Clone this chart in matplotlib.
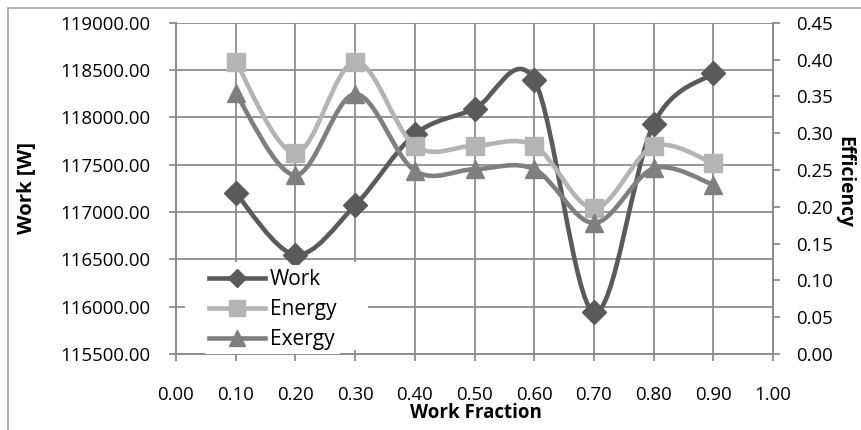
import matplotlib
matplotlib.use("Agg")
import numpy as np
from matplotlib import pyplot as plt
from matplotlib.path import Path
from matplotlib.patches import PathPatch, Rectangle
from matplotlib.lines import Line2D

plt.rcParams['font.family'] = ['Open Sans', 'DejaVu Sans']

work_fraction = [0.1, 0.2, 0.3, 0.4, 0.5, 0.6, 0.7, 0.8, 0.9]
work = [117200, 116550, 117070, 117820, 118090, 118395, 115940, 117930, 118465]
energy = [0.397, 0.273, 0.397, 0.283, 0.283, 0.283, 0.198, 0.282, 0.259]
exergy = [0.354, 0.243, 0.353, 0.249, 0.251, 0.251, 0.178, 0.252, 0.230]

c_work = '#5a5a5a'
c_energy = '#b4b4b4'
c_exergy = '#7f7f7f'
grid_c = '#8c8c8c'


def smooth_curve(ax, xs, ys, color, lw):
    # excel-like smoothed line (catmull-rom as cubic bezier)
    pts = np.column_stack([xs, ys]).astype(float)
    n = len(pts)
    verts = [pts[0]]
    codes = [Path.MOVETO]
    for i in range(n - 1):
        p0 = pts[i - 1] if i > 0 else pts[i]
        p1 = pts[i]
        p2 = pts[i + 1]
        p3 = pts[i + 2] if i + 2 < n else pts[i + 1]
        verts += [p1 + (p2 - p0) / 6, p2 - (p3 - p1) / 6, p2]
        codes += [Path.CURVE4] * 3
    ax.add_patch(PathPatch(Path(verts, codes), fill=False, edgecolor=color,
                           lw=lw, capstyle='round', joinstyle='round', zorder=3))


fig = plt.figure(figsize=(8.61, 4.30), dpi=100)
ax1 = fig.add_axes([176 / 861, 1 - 354 / 430, 597 / 861, 331.3 / 430])
ax2 = ax1.twinx()

lw = 3.3
smooth_curve(ax1, work_fraction, work, c_work, lw)
ax1.plot(work_fraction, work, ls='none', marker='D', ms=12, color=c_work, zorder=4)

smooth_curve(ax2, work_fraction, energy, c_energy, lw)
ax2.plot(work_fraction, energy, ls='none', marker='s', ms=12.5, color=c_energy, zorder=4)
smooth_curve(ax2, work_fraction, exergy, c_exergy, lw)
ax2.plot(work_fraction, exergy, ls='none', marker='^', ms=13, color=c_exergy, zorder=4)

ax1.set_xlim(0, 1)
ax1.set_ylim(115500, 119000)
ax2.set_ylim(0, 0.45)
ax1.set_xticks(np.arange(0, 1.01, 0.1))
ax1.set_yticks(np.arange(115500, 119001, 500))
ax2.set_yticks(np.arange(0, 0.451, 0.05))
ax1.xaxis.set_major_formatter(lambda v, p: f'{v:.2f}')
ax1.yaxis.set_major_formatter(lambda v, p: f'{v:.2f}')
ax2.yaxis.set_major_formatter(lambda v, p: f'{v:.2f}')

ax1.grid(True, color=grid_c, lw=1.3)
ax1.set_axisbelow(True)
for ax in (ax1, ax2):
    for s in ax.spines.values():
        s.set_color(grid_c)
        s.set_linewidth(1.3)
    ax.spines['top'].set_visible(False)
ax1.tick_params(axis='both', length=5, width=1.3, color=grid_c, labelsize=13.4)
ax1.tick_params(axis='y', pad=13.5)
ax1.tick_params(axis='x', pad=18)
ax2.tick_params(axis='y', length=5, width=1.3, color=grid_c, labelsize=13.4, pad=12)

ax1.set_ylabel('Work [W]', fontsize=14.6, fontweight='bold')
ax2.set_ylabel('Efficiency', fontsize=13.8, fontweight='bold', rotation=270, va='center')
ax1.set_xlabel('Work Fraction', fontsize=13.5, fontweight='bold')
ax1.yaxis.set_label_coords(-0.233, 0.5)
ax2.yaxis.set_label_coords(1.12, 0.52)
ax1.xaxis.set_label_coords(0.503, -0.148)

# white legend background area (hides gridlines like the excel legend box)
ax1.add_patch(Rectangle((0.015, 0.012), 0.307, 0.266, transform=ax1.transAxes,
                        facecolor='white', edgecolor='none', zorder=1))

handles = [
    Line2D([], [], color=c_work, lw=lw, marker='D', ms=9.5),
    Line2D([], [], color=c_energy, lw=lw, marker='s', ms=11),
    Line2D([], [], color=c_exergy, lw=lw, marker='^', ms=11),
]
leg = ax2.legend(handles, ['Work', 'Energy', 'Exergy'], loc='upper left',
                 bbox_to_anchor=(0.0486, 0.268), borderaxespad=0, fontsize=15,
                 handlelength=2.7, handletextpad=0.2, labelspacing=0.42,
                 borderpad=0.2, frameon=True, fancybox=False)
leg.get_frame().set_facecolor('white')
leg.get_frame().set_edgecolor('none')
leg.get_frame().set_alpha(1)

fig.patches.append(Rectangle((8 / 861, -0.1), 1.0, 1 - 8 / 430 + 0.1,
                             transform=fig.transFigure, fill=False,
                             edgecolor='#a6a6a6', lw=1.2))

fig.savefig('out.png', dpi=100)
